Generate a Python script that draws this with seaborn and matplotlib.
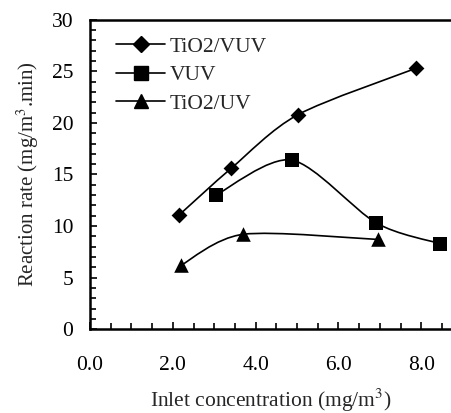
import numpy as np
import pandas as pd
import matplotlib
matplotlib.use("Agg")
import matplotlib.pyplot as plt
from matplotlib.path import Path
from matplotlib.patches import PathPatch
from matplotlib.lines import Line2D
from matplotlib.ticker import MultipleLocator, FormatStrFormatter
import seaborn as sns

# values
tio2_vuv_x = [2.16, 3.41, 5.02, 7.87]
tio2_vuv_y = [11.1, 15.6, 20.8, 25.3]
vuv_x = [3.04, 4.87, 6.91, 8.45]
vuv_y = [13.0, 16.4, 10.3, 8.3]
tio2_uv_x = [2.20, 3.70, 6.95]
tio2_uv_y = [6.2, 9.2, 8.7]

series = [
    ("TiO2/VUV", tio2_vuv_x, tio2_vuv_y, "D", 65),
    ("VUV", vuv_x, vuv_y, "s", 110),
    ("TiO2/UV", tio2_uv_x, tio2_uv_y, "^", 110),
]

sns.set_style("ticks")
plt.rcParams["font.family"] = ["Liberation Serif", "DejaVu Serif"]
plt.rcParams["mathtext.fontset"] = "stix"


# smooth connecting curve (like a spreadsheet "smoothed line"), as bezier path
def smooth_path(xs, ys, k=7.0):
    pts = np.column_stack([xs, ys])
    n = len(pts)
    verts = [pts[0]]
    codes = [Path.MOVETO]
    for i in range(n - 1):
        p0 = pts[i - 1] if i > 0 else pts[i]
        p1 = pts[i]
        p2 = pts[i + 1]
        p3 = pts[i + 2] if i + 2 < n else pts[i + 1]
        c1 = p1 + (p2 - p0) / k
        c2 = p2 - (p3 - p1) / k
        verts += [c1, c2, p2]
        codes += [Path.CURVE4] * 3
    return Path(verts, codes)


fig = plt.figure(figsize=(4.52, 4.13), dpi=100)
ax = fig.add_axes([0.199, 0.203, 0.801, 0.749])

for name, xs, ys, mk, sz in series:
    ax.add_patch(PathPatch(smooth_path(xs, ys), facecolor="none",
                           edgecolor="black", lw=1.2, zorder=2))
    df = pd.DataFrame({"x": xs, "y": ys})
    sns.scatterplot(data=df, x="x", y="y", marker=mk, s=sz, color="black",
                    edgecolor="black", linewidth=0, ax=ax, zorder=3, legend=False)

ax.set_xlim(0, 8.74)
ax.set_ylim(0, 30)
ax.xaxis.set_major_locator(MultipleLocator(2))
ax.xaxis.set_minor_locator(MultipleLocator(0.5))
ax.xaxis.set_major_formatter(FormatStrFormatter("%.1f"))
ax.yaxis.set_major_locator(MultipleLocator(5))
ax.yaxis.set_minor_locator(MultipleLocator(1))

ax.tick_params(axis="both", which="both", direction="in", width=1.2,
               labelsize=15.5, colors="black")
ax.tick_params(axis="x", which="major", length=5, pad=19)
ax.tick_params(axis="x", which="minor", length=4)
ax.tick_params(axis="y", which="major", length=5, pad=12)
ax.tick_params(axis="y", which="minor", length=4)

for side in ["left", "bottom", "top"]:
    ax.spines[side].set_linewidth(1.8)
    ax.spines[side].set_color("black")
ax.spines["right"].set_visible(False)

ax.set_xlabel("Inlet concentration (mg/m$^3$)", fontsize=15.5, labelpad=9)
ax.set_ylabel("Reaction rate (mg/m$^3$.min)", fontsize=15, labelpad=8)

handles = [Line2D([], [], color="black", lw=1.2, marker=mk,
                  markersize=10 if mk != "D" else 8, label=name)
           for name, xs, ys, mk, sz in series]
ax.legend(handles=handles, loc="upper left", frameon=False, fontsize=15.5,
          handlelength=2.3, handletextpad=0.2, labelspacing=0.4,
          borderaxespad=0.3, bbox_to_anchor=(0.03, 0.995))

fig.savefig("out.png", dpi=100)
